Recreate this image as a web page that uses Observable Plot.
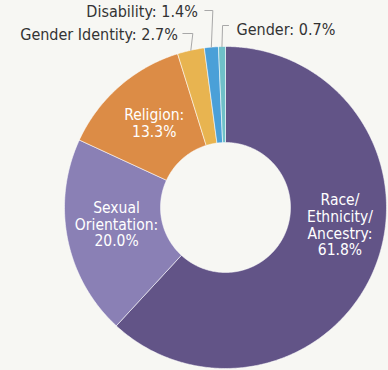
<!DOCTYPE html>
<html><head><meta charset="utf-8">
<script src="https://cdn.jsdelivr.net/npm/d3@7"></script>
<script src="https://cdn.jsdelivr.net/npm/@observablehq/plot@0.6"></script>
<style>
html,body{margin:0;padding:0;background:#f7f7f3;}
#chart svg{display:block;}
</style></head><body><div id="chart"></div>
<script>
// ---- data ----
const categories = ["Race/Ethnicity/Ancestry", "Sexual Orientation", "Religion", "Gender Identity", "Disability", "Gender"];
const values = [61.8, 20.0, 13.3, 2.7, 1.4, 0.7];
const labelLines = [["Race/", "Ethnicity/", "Ancestry:"], ["Sexual", "Orientation:"], ["Religion:"], ["Gender Identity:"], ["Disability:"], ["Gender:"]];
const colors = ["#625487", "#8a80b5", "#dc8c46", "#e8b450", "#4aa0d8", "#6fc0c8"];

// ---- layout (not data) ----
const W = 388, H = 370;
const cx = 225, cy = 207, R = 161, R0 = 65;
const insideIdx = [0, 1, 2];
const insideNudge = [[11, -23], [0, -5], [2, -1]];
const outside = [
  {i: 3, y: 33, ty: 34, side: -1, stub: 10, gap: 5, lean: 2},
  {i: 4, y: 10, ty: 11, side: -1, stub: 8, gap: 7, lean: 1.5},
  {i: 5, y: 25, ty: 29, side: 1, stub: 6, gap: 8, lean: 0.6}
];

const arcs = d3.pie().sort(null).value(d => d)(values);
const pt = (a, r) => [cx + r * Math.sin(a), cy - r * Math.cos(a)];

// slice outlines (sampled along arcs)
const slicePts = [];
arcs.forEach((a, i) => {
  const n = Math.max(2, Math.ceil((a.endAngle - a.startAngle) / 0.01));
  const outer = d3.range(n + 1).map(k => a.startAngle + (a.endAngle - a.startAngle) * k / n);
  outer.forEach(t => { const [x, y] = pt(t, R); slicePts.push({name: categories[i], x, y}); });
  outer.slice().reverse().forEach(t => { const [x, y] = pt(t, R0); slicePts.push({name: categories[i], x, y}); });
  const [x, y] = pt(a.startAngle, R);
  slicePts.push({name: categories[i], x, y});
});

const fmt = v => v.toFixed(1) + "%";

const insideLabels = insideIdx.map((i, k) => {
  const a = arcs[i];
  const mid = (a.startAngle + a.endAngle) / 2;
  const [x, y] = pt(mid, 0.69 * R);
  return {x: x + insideNudge[k][0], y: y + insideNudge[k][1], text: labelLines[i].concat([fmt(values[i])]).join("\n")};
});

const leaderPts = [];
const outsideLabels = [];
outside.forEach(o => {
  const a = arcs[o.i];
  const mid = (a.startAngle + a.endAngle) / 2;
  const [ex, ey] = pt(mid, R);
  const name = categories[o.i];
  const elbowX = ex + o.lean;
  leaderPts.push({name, x: ex, y: ey});
  leaderPts.push({name, x: elbowX, y: o.y});
  leaderPts.push({name, x: elbowX + o.side * o.stub, y: o.y});
  outsideLabels.push({
    x: elbowX + o.side * (o.stub + o.gap), y: o.ty,
    text: labelLines[o.i].join(" ") + " " + fmt(values[o.i]),
    anchor: o.side < 0 ? "end" : "start"
  });
});

const font = "'DejaVu Sans Condensed', 'DejaVu Sans', Verdana, sans-serif";

const chart = Plot.plot({
  width: W, height: H,
  margin: 0,
  style: {background: "#f7f7f3", fontFamily: font, fontStretch: "condensed"},
  x: {domain: [0, W], range: [0, W], axis: null},
  y: {domain: [0, H], range: [0, H], axis: null},
  color: {domain: categories, range: colors},
  marks: [
    Plot.line(slicePts, {x: "x", y: "y", z: "name", fill: "name", stroke: "#ffffff", strokeOpacity: 0.55, strokeWidth: 1}),
    Plot.line(leaderPts, {x: "x", y: "y", z: "name", stroke: "#a8a8a8", strokeWidth: 1}),
    Plot.text(insideLabels, {x: "x", y: "y", text: "text", fill: "white", fontSize: 15.5, lineHeight: 1.08}),
    Plot.text(outsideLabels.filter(d => d.anchor === "end"), {x: "x", y: "y", text: "text", fill: "#333333", fontSize: 16, textAnchor: "end"}),
    Plot.text(outsideLabels.filter(d => d.anchor === "start"), {x: "x", y: "y", text: "text", fill: "#333333", fontSize: 16, textAnchor: "start"})
  ]
});
document.getElementById("chart").appendChild(chart);
</script>
</body></html>
